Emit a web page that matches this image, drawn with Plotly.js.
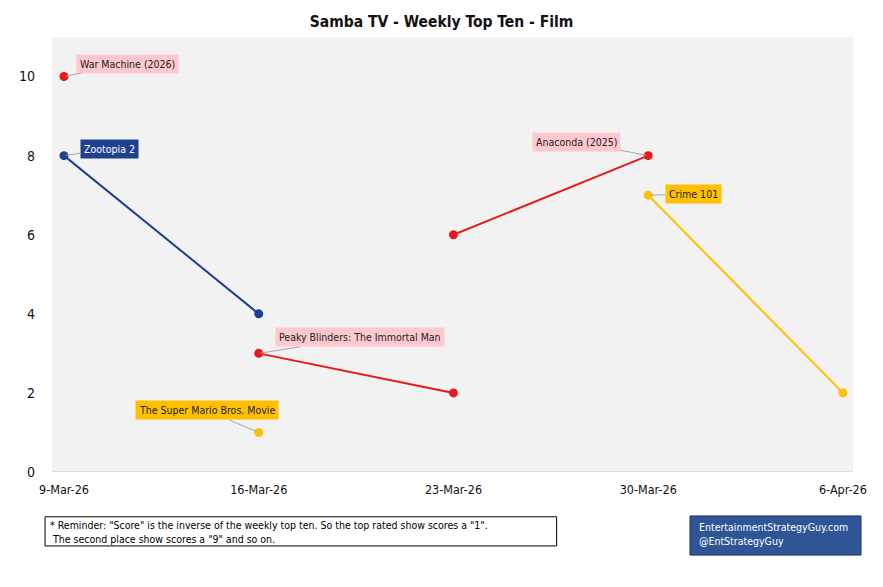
<!DOCTYPE html>
<html>
<head>
<meta charset="utf-8">
<script src="https://cdn.plot.ly/plotly-3.0.1.min.js"></script>
<style>html,body{margin:0;padding:0;background:#fff;}#chart{width:883px;height:587px;}</style>
</head>
<body>
<div id="chart"></div>
<script>
var FONT = '"Liberation Sans Narrow", "DejaVu Sans Condensed", "Roboto Condensed", sans-serif';

var tickDates = ['2026-03-09', '2026-03-16', '2026-03-23', '2026-03-30', '2026-04-06'];
var tickLabels = ['9-Mar-26', '16-Mar-26', '23-Mar-26', '30-Mar-26', '6-Apr-26'];

var warMachineX = ['2026-03-09'];
var warMachineY = [10];
var zootopiaX = ['2026-03-09', '2026-03-16'];
var zootopiaY = [8, 4];
var peakyX = ['2026-03-16', '2026-03-23'];
var peakyY = [3, 2];
var anacondaX = ['2026-03-23', '2026-03-30'];
var anacondaY = [6, 8];
var marioX = ['2026-03-16'];
var marioY = [1];
var crimeX = ['2026-03-30', '2026-04-06'];
var crimeY = [7, 2];

var RED = '#E8191C', BLUE = '#1F3F8F', AMBER = '#FFC000';
var PINK = '#FFC7CE';

function tr(name, x, y, color) {
  return {type: 'scatter', mode: 'lines+markers', name: name, x: x, y: y,
    line: {color: color, width: 2}, marker: {color: color, size: 9}, hoverinfo: 'skip'};
}

var data = [
  tr('War Machine (2026)', warMachineX, warMachineY, RED),
  tr('Zootopia 2', zootopiaX, zootopiaY, BLUE),
  tr('Peaky Blinders: The Immortal Man', peakyX, peakyY, RED),
  tr('Anaconda (2025)', anacondaX, anacondaY, RED),
  tr('The Super Mario Bros. Movie', marioX, marioY, AMBER),
  tr('Crime 101', crimeX, crimeY, AMBER)
];

function lab(text, x, y, ax, ay, bg, fc) {
  return {text: text, x: x, y: y, xref: 'x', yref: 'y', showarrow: true, arrowhead: 0,
    arrowwidth: 1, arrowcolor: '#A6A6A6', ax: ax, ay: ay, bgcolor: bg, borderpad: 3,
    font: {family: FONT, size: 10.5, color: fc}, standoff: 2};
}

var annotations = [
  lab('War Machine (2026)', warMachineX[0], warMachineY[0], 64, -13, PINK, '#222'),
  lab('Zootopia 2', zootopiaX[0], zootopiaY[0], 46, -7, BLUE, '#fff'),
  lab('Peaky Blinders: The Immortal Man', peakyX[0], peakyY[0], 101, -16, PINK, '#222'),
  lab('The Super Mario Bros. Movie', marioX[0], marioY[0], -52, -22, AMBER, '#222'),
  lab('Anaconda (2025)', anacondaX[1], anacondaY[1], -72, -14, PINK, '#222'),
  lab('Crime 101', crimeX[0], crimeY[0], 45, -1, AMBER, '#222'),
  {text: '* Reminder: "Score" is the inverse of the weekly top ten. So the top rated show scores a "1".<br> The second place show scores a "9" and so on.',
   xref: 'paper', yref: 'paper', x: -0.005, y: -0.104, xanchor: 'left', yanchor: 'top', align: 'left',
   showarrow: false, font: {family: FONT, size: 10.5, color: '#000'}},
  {text: 'EntertainmentStrategyGuy.com<br>@EntStrategyGuy',
   xref: 'paper', yref: 'paper', x: 0.805, y: -0.108, xanchor: 'left', yanchor: 'top', align: 'left',
   showarrow: false, font: {family: FONT, size: 10.5, color: '#fff'}}
];

var layout = {
  width: 883, height: 587,
  margin: {l: 52, r: 30, t: 37, b: 115},
  paper_bgcolor: '#fff', plot_bgcolor: '#F2F2F2',
  showlegend: false,
  title: {text: '<b>Samba TV - Weekly Top Ten - Film</b>', x: 0.5, xanchor: 'center', y: 0.964, yanchor: 'middle',
    font: {family: FONT, size: 15.5, color: '#111'}},
  xaxis: {type: 'date', range: ['2026-03-08 13:40', '2026-04-06 08:40'],
    tickvals: tickDates, ticktext: tickLabels, showgrid: false, zeroline: false,
    showline: false, ticks: '', tickfont: {family: FONT, size: 12.5, color: '#111'}, ticklabelstandoff: 8},
  yaxis: {range: [0, 11], tickvals: [0, 2, 4, 6, 8, 10], showgrid: false, zeroline: false,
    showline: false, ticks: '', tickfont: {family: FONT, size: 14, color: '#111'}, ticklabelstandoff: 16},
  shapes: [
    {type: 'line', xref: 'paper', yref: 'y', x0: 0, x1: 1, y0: 0, y1: 0, line: {color: '#D9D9D9', width: 1.5}},
    {type: 'rect', xref: 'paper', yref: 'paper', x0: -0.0087, x1: 0.630, y0: -0.103, y1: -0.170,
     line: {color: '#000', width: 1}, fillcolor: '#fff'},
    {type: 'rect', xref: 'paper', yref: 'paper', x0: 0.7965, x1: 1.010, y0: -0.101, y1: -0.191,
     line: {color: '#1F3864', width: 1}, fillcolor: '#2F5597'}
  ],
  annotations: annotations
};

Plotly.newPlot('chart', data, layout, {displayModeBar: false, staticPlot: true});
</script>
</body>
</html>
